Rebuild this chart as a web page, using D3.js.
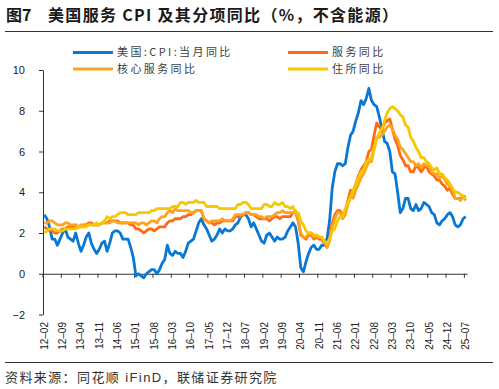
<!DOCTYPE html>
<html>
<head>
<meta charset="utf-8">
<script src="https://cdn.jsdelivr.net/npm/d3@7"></script>
<style>
  html, body { margin: 0; padding: 0; background: #fff; }
  svg { display: block; }
</style>
</head>
<body>
<div id="chart"></div>
<script>
// monthly categories 2012-02 .. 2025-07
const months = d3.timeMonth.range(new Date(2012, 1, 1), new Date(2025, 7, 1)).map(d3.timeFormat("%y-%m"))

const tickLabels = ["12-02","12-09","13-04","13-11","14-06","15-01","15-08","16-03","16-10","17-05","17-12","18-07",
  "19-02","19-09","20-04","20-11","21-06","22-01","22-08","23-03","23-10","24-05","24-12","25-07"]

const yTicks = [-2, 0, 2, 4, 6, 8, 10]

// 美国:CPI:当月同比
const cpi = [
  2.9, 2.7, 2.3, 1.7, 1.7, 1.4, 1.7, 2.0, 2.2, 1.8, 1.7,
  1.6, 2.0, 1.5, 1.1, 1.4, 1.8, 2.0, 1.5, 1.2, 1.0, 1.2, 1.5,
  1.6, 1.1, 1.5, 2.0, 2.1, 2.1, 2.0, 1.7, 1.7, 1.7, 1.3, 0.8,
  -0.1, 0.0, -0.1, -0.2, 0.0, 0.1, 0.2, 0.2, 0.0, 0.2, 0.5, 0.7,
  1.4, 1.0, 0.9, 1.1, 1.0, 1.0, 0.8, 1.1, 1.5, 1.6, 1.7, 2.1,
  2.5, 2.7, 2.4, 2.2, 1.9, 1.6, 1.7, 1.9, 2.2, 2.0, 2.2, 2.1,
  2.1, 2.2, 2.4, 2.5, 2.8, 2.9, 2.9, 2.7, 2.3, 2.5, 2.2, 1.9,
  1.6, 1.5, 1.9, 2.0, 1.8, 1.6, 1.8, 1.7, 1.7, 1.8, 2.1, 2.3,
  2.5, 2.3, 1.5, 0.3, 0.1, 0.6, 1.0, 1.3, 1.4, 1.2, 1.2, 1.4,
  1.4, 1.7, 2.6, 4.2, 5.0, 5.4, 5.4, 5.3, 5.4, 6.2, 6.8, 7.0,
  7.5, 7.9, 8.5, 8.3, 8.6, 9.1, 8.5, 8.3, 8.2, 7.7, 7.1, 6.5,
  6.4, 6.0, 5.0, 4.9, 4.0, 3.0, 3.2, 3.7, 3.7, 3.2, 3.1, 3.4,
  3.1, 3.2, 3.5, 3.4, 3.3, 3.0, 2.9, 2.5, 2.4, 2.6, 2.7, 2.9,
  3.0, 2.8, 2.4, 2.3, 2.4, 2.7, 2.8
]

// 服务同比
const services = [
  2.3, 2.2, 2.1, 2.1, 2.0, 2.0, 2.1, 2.2, 2.2, 2.3, 2.3,
  2.3, 2.4, 2.3, 2.3, 2.4, 2.4, 2.5, 2.5, 2.4, 2.4, 2.4, 2.5,
  2.5, 2.5, 2.6, 2.6, 2.6, 2.6, 2.5, 2.5, 2.5, 2.5, 2.4, 2.4,
  2.2, 2.2, 2.1, 2.0, 2.1, 2.2, 2.2, 2.1, 2.2, 2.3, 2.3, 2.3,
  2.5, 2.6, 2.6, 2.7, 2.7, 2.7, 2.8, 2.8, 2.9, 2.9, 3.0, 3.1,
  3.1, 3.1, 2.7, 2.6, 2.5, 2.5, 2.4, 2.5, 2.5, 2.6, 2.6, 2.6,
  2.6, 2.6, 2.8, 2.8, 2.8, 2.9, 3.0, 3.0, 2.9, 2.9, 2.8, 2.7,
  2.7, 2.7, 2.7, 2.6, 2.7, 2.8, 2.8, 2.7, 2.8, 2.8, 2.8, 2.8,
  3.0, 3.0, 2.6, 1.9, 1.8, 1.7, 1.9, 1.9, 1.7, 1.8, 1.7, 1.7,
  1.5, 1.3, 1.7, 2.5, 2.9, 3.1, 3.1, 2.9, 3.1, 3.6, 4.1, 4.0,
  4.4, 4.8, 5.1, 5.3, 5.5, 6.0, 6.1, 6.8, 7.4, 7.2, 7.1, 7.4,
  7.5, 7.6, 7.1, 6.6, 6.3, 5.8, 5.6, 5.3, 5.3, 5.0, 5.0, 5.3,
  5.2, 5.0, 5.2, 5.3, 5.0, 4.9, 4.8, 4.6, 4.6, 4.4, 4.3, 4.1,
  4.2, 3.9, 3.7, 3.7, 3.7, 3.8, 3.8
]

// 核心服务同比
const coreServices = [
  2.5, 2.5, 2.6, 2.6, 2.5, 2.4, 2.4, 2.4, 2.5, 2.5, 2.4,
  2.4, 2.4, 2.3, 2.4, 2.4, 2.4, 2.4, 2.4, 2.4, 2.4, 2.4, 2.5,
  2.5, 2.5, 2.5, 2.6, 2.6, 2.5, 2.5, 2.5, 2.5, 2.5, 2.5, 2.5,
  2.5, 2.4, 2.5, 2.5, 2.4, 2.5, 2.6, 2.6, 2.5, 2.7, 2.8, 2.8,
  3.0, 3.1, 3.0, 3.2, 3.1, 3.1, 3.1, 3.1, 3.1, 3.0, 3.0, 3.1,
  3.1, 3.1, 2.7, 2.6, 2.5, 2.6, 2.6, 2.6, 2.6, 2.7, 2.6, 2.6,
  2.6, 2.7, 2.9, 2.9, 2.9, 2.9, 3.0, 3.0, 2.9, 2.9, 2.9, 2.8,
  2.8, 2.7, 2.8, 2.8, 2.8, 2.9, 3.0, 3.0, 3.1, 3.0, 3.0, 3.0,
  3.0, 3.1, 2.7, 2.0, 1.8, 1.8, 2.0, 2.0, 1.8, 1.9, 1.8, 1.8,
  1.6, 1.3, 1.6, 2.3, 2.7, 3.0, 3.0, 2.7, 2.9, 3.4, 3.8, 3.7,
  4.1, 4.4, 4.7, 4.9, 5.2, 5.5, 5.5, 6.1, 6.7, 6.7, 6.8, 7.0,
  7.2, 7.3, 7.1, 6.8, 6.6, 6.2, 6.1, 5.9, 5.7, 5.5, 5.5, 5.3,
  5.4, 5.2, 5.4, 5.3, 5.3, 5.0, 4.9, 4.9, 4.7, 4.8, 4.6, 4.4,
  4.3, 4.1, 3.7, 3.7, 3.6, 3.8, 3.6
]

// 住所同比
const shelter = [
  2.0, 2.1, 2.2, 2.2, 2.2, 2.1, 2.1, 2.1, 2.2, 2.2, 2.2,
  2.2, 2.2, 2.3, 2.3, 2.3, 2.3, 2.4, 2.4, 2.4, 2.5, 2.4, 2.5,
  2.6, 2.8, 2.7, 2.8, 2.8, 2.9, 3.0, 3.0, 3.0, 2.9, 2.9, 2.9,
  2.9, 3.0, 3.0, 3.0, 3.0, 3.0, 3.1, 3.1, 3.2, 3.2, 3.2, 3.2,
  3.2, 3.2, 3.3, 3.3, 3.3, 3.5, 3.5, 3.4, 3.5, 3.5, 3.5, 3.6,
  3.5, 3.5, 3.5, 3.3, 3.3, 3.3, 3.3, 3.3, 3.2, 3.2, 3.2, 3.2,
  3.2, 3.2, 3.2, 3.4, 3.4, 3.5, 3.5, 3.4, 3.2, 3.2, 3.2, 3.2,
  3.2, 3.4, 3.4, 3.3, 3.3, 3.5, 3.4, 3.4, 3.5, 3.3, 3.3, 3.2,
  3.3, 3.0, 3.0, 2.6, 2.4, 2.1, 2.0, 2.0, 1.9, 1.9, 1.8, 1.8,
  1.6, 1.5, 1.7, 2.1, 2.2, 2.6, 2.8, 2.8, 3.2, 3.5, 3.8, 4.1,
  4.4, 4.7, 5.0, 5.1, 5.5, 5.6, 5.7, 6.2, 6.6, 6.9, 7.1, 7.5,
  7.9, 8.1, 8.2, 8.1, 8.0, 7.8, 7.7, 7.3, 7.2, 6.7, 6.5, 6.2,
  6.0, 5.7, 5.7, 5.5, 5.4, 5.2, 5.1, 5.2, 4.9, 4.9, 4.7, 4.6,
  4.4, 4.2, 4.0, 4.0, 3.9, 3.8, 3.7
]

const seriesNames = ["美国:CPI:当月同比", "服务同比", "核心服务同比", "住所同比"]
const seriesColors = ["#0A78D2", "#FF6A13", "#FFA31F", "#F5C800"]
const seriesData = [cpi, services, coreServices, shelter]

const width = 499
const height = 389
const cjk = "'Noto Sans CJK SC', 'Noto Sans', sans-serif"
const latin = "'Liberation Sans', Arial, sans-serif"

const svg = d3.select("#chart")
  .append("svg")
  .attr("width", width)
  .attr("height", height)

// title
svg.append("text")
  .attr("x", 6).attr("y", 21)
  .attr("font-family", cjk).attr("font-weight", "bold").attr("font-size", 16)
  .attr("fill", "#1a1a1a")
  .text("图7")
svg.append("text")
  .attr("x", 48).attr("y", 21)
  .attr("font-family", cjk).attr("font-weight", "bold").attr("font-size", 16)
  .attr("fill", "#1a1a1a")
  .attr("textLength", 350).attr("lengthAdjust", "spacing")
  .text("美国服务 CPI 及其分项同比（%，不含能源）")

svg.append("line").attr("x1", 5).attr("x2", 493).attr("y1", 31.5).attr("y2", 31.5)
  .attr("stroke", "#333").attr("stroke-width", 1)
svg.append("line").attr("x1", 5).attr("x2", 493).attr("y1", 362.5).attr("y2", 362.5)
  .attr("stroke", "#333").attr("stroke-width", 1)

// source
svg.append("text")
  .attr("x", 5).attr("y", 382)
  .attr("font-family", "'Liberation Sans', 'Noto Sans CJK SC', sans-serif").attr("font-size", 13)
  .attr("fill", "#333")
  .attr("letter-spacing", 1.4)
  .text("资料来源：同花顺 iFinD，联储证券研究院")

// scales
const x = d3.scaleBand()
  .domain(months)
  .range([43, 467])

const y = d3.scaleLinear()
  .domain([-2, 10])
  .range([314.5, 70])

// y axis
const yAxis = svg.append("g")
  .attr("transform", "translate(43,0)")
  .call(d3.axisLeft(y).tickValues(yTicks).tickSize(4).tickSizeOuter(0).tickPadding(14))
yAxis.select(".domain").attr("stroke", "#333")
yAxis.selectAll(".tick line").attr("stroke", "#333")
yAxis.selectAll(".tick text")
  .attr("font-family", latin).attr("font-size", 11).attr("fill", "#222")
  .text(d => d < 0 ? "−" + Math.abs(d) : d)

// x axis on the zero line
const xAxis = svg.append("g")
  .attr("transform", `translate(0,${y(0)})`)
  .call(d3.axisBottom(x).tickValues(tickLabels).tickSize(4).tickSizeOuter(0).tickFormat(""))
xAxis.select(".domain").attr("stroke", "#333")
xAxis.selectAll(".tick line").attr("stroke", "#333").attr("transform", `translate(${-x.bandwidth() / 2},0)`)

// x labels at the bottom
const xLabels = svg.append("g")
  .attr("transform", "translate(0,322)")
  .call(d3.axisBottom(x).tickValues(tickLabels).tickSize(0))
xLabels.select(".domain").remove()
xLabels.selectAll(".tick text")
  .attr("y", 0).attr("x", 0).attr("dy", "0.35em")
  .attr("text-anchor", "end")
  .attr("transform", "rotate(-90)")
  .attr("font-family", latin).attr("font-size", 10).attr("fill", "#222")
  .text(d => d.replace("-", "–"))

// lines
const line = d3.line()
  .x((d, i) => x(months[i]) + x.bandwidth() / 2)
  .y(d => y(d))

svg.append("g")
  .selectAll("path")
  .data(seriesData)
  .join("path")
  .attr("fill", "none")
  .attr("stroke", (d, i) => seriesColors[i])
  .attr("stroke-width", 2.8)
  .attr("stroke-linejoin", "round")
  .attr("d", line)

// legend
const legendPos = [[73, 52.5], [288, 52.5], [73, 69], [288, 69]]
const legend = svg.append("g")
  .selectAll("g")
  .data(seriesNames)
  .join("g")
  .attr("transform", (d, i) => `translate(${legendPos[i][0]},${legendPos[i][1]})`)
legend.append("line")
  .attr("x1", 0).attr("x2", 40)
  .attr("stroke", (d, i) => seriesColors[i]).attr("stroke-width", 2.8)
legend.append("text")
  .attr("x", 44).attr("dy", "0.36em")
  .attr("font-family", cjk).attr("font-size", 11).attr("fill", "#404040")
  .attr("letter-spacing", 2.4)
  .text(d => d)
</script>
</body>
</html>
